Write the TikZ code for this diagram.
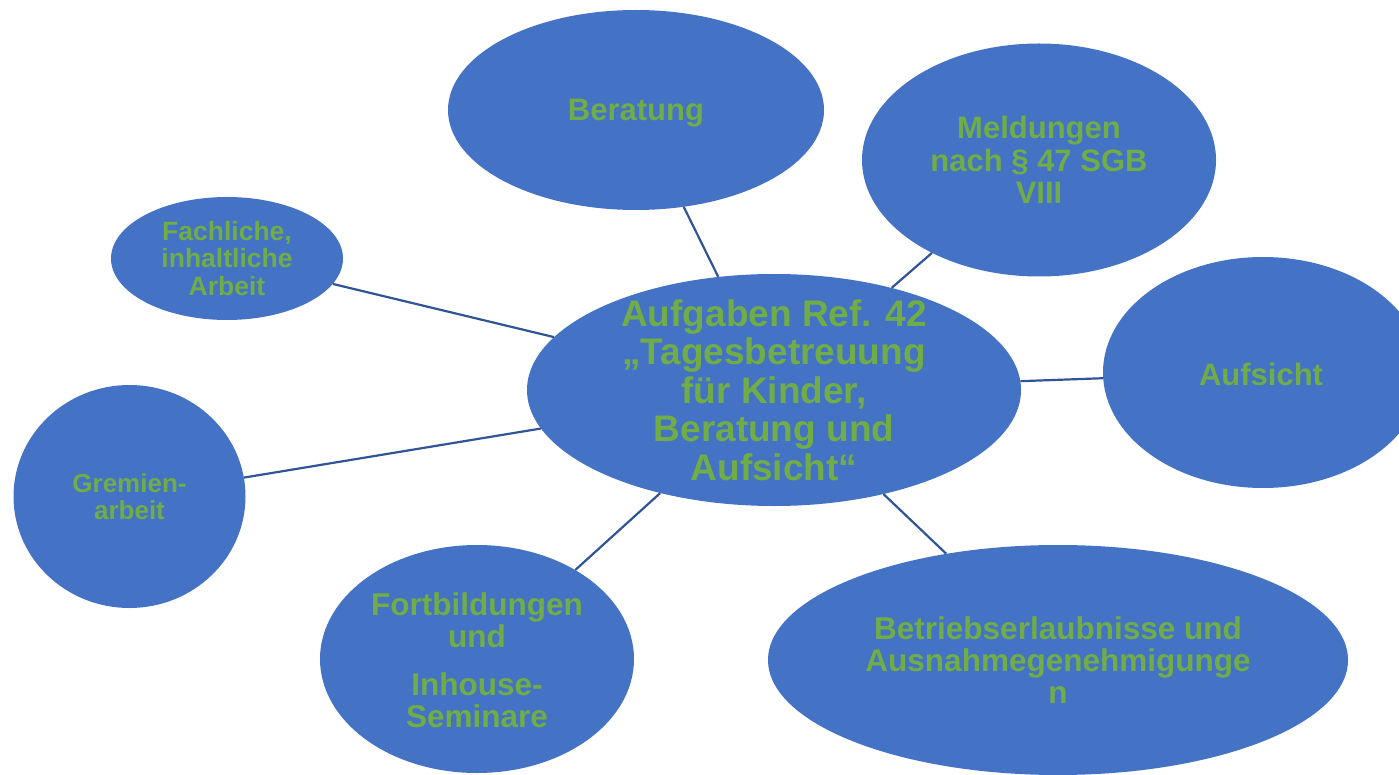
\documentclass[tikz,border=0pt]{standalone}
\usepackage{fontspec}
\setmainfont{Liberation Sans}
\usetikzlibrary{shapes.geometric}
\definecolor{fillblue}{HTML}{4472C4}
\definecolor{txtgreen}{HTML}{70AD47}
\definecolor{linkblue}{HTML}{2F5597}
\begin{document}
\begin{tikzpicture}[x=1pt,y=-1pt,
  bubble/.style={ellipse, fill=fillblue, draw=none, inner sep=0pt},
  lbl/.style={text=txtgreen, align=center, inner sep=0pt},
  link/.style={draw=linkblue, line width=2.2pt}]
\useasboundingbox (0,0) rectangle (1399,775);
\clip (0,0) rectangle (1399,775);
% bubbles
\node[bubble, minimum width=494pt, minimum height=232pt] (center) at (774,390) {};
\node[bubble, minimum width=376pt, minimum height=200pt] (ber) at (636,110) {};
\node[bubble, minimum width=354pt, minimum height=233pt] (mel) at (1039,160) {};
\node[bubble, minimum width=232pt, minimum height=123pt] (fach) at (227,258.5) {};
\node[bubble, minimum width=320pt, minimum height=231pt] (auf) at (1263,372.5) {};
\node[bubble, minimum width=232pt, minimum height=223pt] (grem) at (129.5,496.5) {};
\node[bubble, minimum width=314pt, minimum height=228pt] (fort) at (477,659) {};
\node[bubble, minimum width=580pt, minimum height=230pt] (betr) at (1058,660) {};
% connectors
\draw[link] (center) -- (ber);
\draw[link] (center) -- (mel);
\draw[link] (center) -- (fach);
\draw[link] (center) -- (auf);
\draw[link] (center) -- (grem);
\draw[link] (center) -- (fort);
\draw[link] (center) -- (betr);
% labels
\node[lbl, font=\bfseries\fontsize{37}{38.5}\selectfont] (tcenter) at (center.center)
  {Aufgaben Ref. 42\\„Tagesbetreuung\\für Kinder,\\Beratung und\\Aufsicht“};
\node[lbl, font=\bfseries\fontsize{31}{32.5}\selectfont] (tber) at (636,113) {Beratung};
\node[lbl, font=\bfseries\fontsize{31}{32.5}\selectfont] (tmel) at (mel.center) {Meldungen\\nach § 47 SGB\\VIII};
\node[lbl, font=\bfseries\fontsize{26.5}{27.5}\selectfont] (tfach) at (fach.center) {Fachliche,\\inhaltliche\\Arbeit};
\node[lbl, font=\bfseries\fontsize{31}{32.5}\selectfont] (tauf) at (1261,374) {Aufsicht};
\node[lbl, font=\bfseries\fontsize{26}{27}\selectfont] (tgrem) at (grem.center) {Gremien-\\arbeit};
\node[lbl, font=\bfseries\fontsize{31.5}{32}\selectfont] (tfort) at (477,660) {Fortbildungen\\und\\[16pt]Inhouse-\\Seminare};
\node[lbl, font=\bfseries\fontsize{31.5}{32}\selectfont] (tbetr) at (betr.center) {Betriebserlaubnisse und\\Ausnahmegenehmigunge\\n};
\end{tikzpicture}
\end{document}
